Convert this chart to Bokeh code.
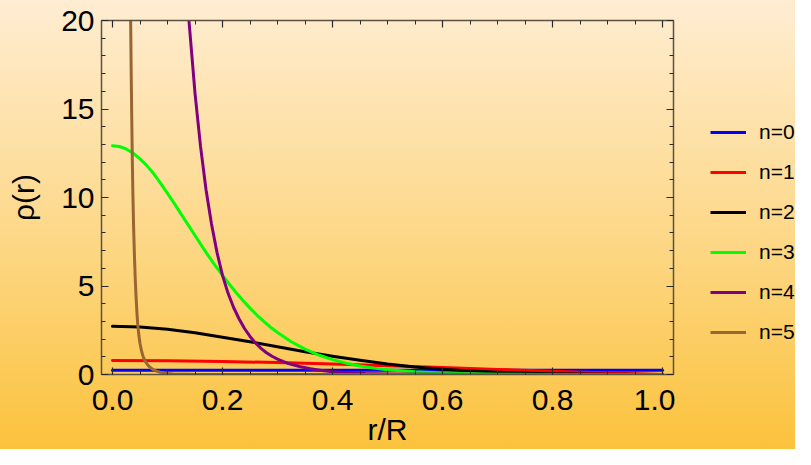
from bokeh.plotting import figure
from bokeh.layouts import row
from bokeh.models import (Range1d, LinearAxis, SingleIntervalTicker, PrintfTickFormatter,
                          CustomJSTickFormatter, Legend, LegendItem)
from bokeh.embed import file_html
from bokeh.resources import INLINE

# ---- data (r/R, rho(r)) ----
r_n0 = [0.0, 0.25, 0.5, 0.75, 1.0]
rho_n0 = [0.239, 0.239, 0.239, 0.239, 0.239]

r_n1 = [0.0, 0.1, 0.2, 0.3, 0.4, 0.5, 0.6, 0.7, 0.8, 0.9, 1.0]
rho_n1 = [0.785, 0.772, 0.734, 0.674, 0.594, 0.50, 0.396, 0.289, 0.184, 0.086, 0.0]

r_n2 = [0.0, 0.05, 0.1, 0.15, 0.2, 0.25, 0.3, 0.35, 0.4, 0.45, 0.5, 0.55, 0.6, 0.65,
        0.7, 0.75, 0.8, 0.9, 1.0]
rho_n2 = [2.72, 2.69, 2.56, 2.36, 2.11, 1.85, 1.57, 1.29, 1.03, 0.80, 0.59, 0.43, 0.30,
          0.20, 0.13, 0.07, 0.04, 0.01, 0.0]

r_n3 = [0.0, 0.0125, 0.025, 0.0375, 0.05, 0.0625, 0.075, 0.0875, 0.1, 0.1125, 0.125,
        0.1375, 0.15, 0.1625, 0.175, 0.1875, 0.2, 0.2125, 0.225, 0.2375, 0.25, 0.2625,
        0.275, 0.2875, 0.3, 0.325, 0.35, 0.375, 0.4, 0.425, 0.45, 0.475, 0.5, 0.55, 0.6,
        0.65, 0.7, 0.8, 0.9, 1.0]
rho_n3 = [12.93, 12.88, 12.74, 12.5, 12.18, 11.8, 11.34, 10.8, 10.23, 9.65, 9.05,
          8.45, 7.85, 7.25, 6.67, 6.12, 5.6, 5.1, 4.62, 4.17, 3.75, 3.36,
          3.0, 2.67, 2.37, 1.85, 1.43, 1.1, 0.84, 0.64, 0.48, 0.36, 0.27, 0.15, 0.08,
          0.04, 0.02, 0.004, 0.0, 0.0]

r_n4 = [0.0, 0.05, 0.1, 0.12, 0.13, 0.139, 0.15, 0.16, 0.17, 0.18, 0.19, 0.2, 0.21, 0.22,
        0.23, 0.24, 0.25, 0.26, 0.27, 0.28, 0.29, 0.3, 0.31, 0.32, 0.34, 0.36, 0.38, 0.4,
        0.43, 0.46, 0.5, 0.6, 0.7, 0.8, 1.0]
rho_n4 = [148.6, 120.0, 45.0, 30.0, 24.5, 20.0, 15.9, 12.9, 10.45, 8.5, 6.9, 5.6, 4.6, 3.8,
          3.15, 2.6, 2.15, 1.78, 1.48, 1.23, 1.03, 0.87, 0.74, 0.62, 0.45, 0.32, 0.23, 0.16,
          0.1, 0.06, 0.035, 0.01, 0.003, 0.0, 0.0]

r_n5 = [0.0, 0.02, 0.025, 0.028, 0.03, 0.0315, 0.033, 0.034, 0.035, 0.036, 0.037, 0.0385,
        0.04, 0.0415, 0.043, 0.0445, 0.046, 0.048, 0.05, 0.053, 0.056, 0.06, 0.065, 0.07,
        0.075, 0.08, 0.087, 0.095, 0.1, 0.11, 0.12, 0.135, 0.15, 0.2, 0.3, 1.0]
rho_n5 = [400.0, 80.0, 45.0, 34.0, 28.0, 24.0, 20.0, 17.0, 14.5, 12.2, 10.3, 8.2,
          6.6, 5.3, 4.3, 3.45, 2.8, 2.2, 1.75, 1.3, 0.98, 0.72, 0.5, 0.36,
          0.26, 0.19, 0.13, 0.08, 0.06, 0.035, 0.02, 0.01, 0.005, 0.001, 0.0, 0.0]

labels = ["n=0", "n=1", "n=2", "n=3", "n=4", "n=5"]
colors = ["#0000FF", "#FF0000", "#000000", "#00FF00", "#800080", "#996633"]
series = [(r_n0, rho_n0), (r_n1, rho_n1), (r_n2, rho_n2),
          (r_n3, rho_n3), (r_n4, rho_n4), (r_n5, rho_n5)]

x_ticks_interval = 0.2
y_ticks_interval = 5

FONT = "Liberation Sans"

# ---------------- main plot ----------------
p = figure(width=675, height=449, output_backend="svg", toolbar_location=None,
           x_range=Range1d(-0.02, 1.02), y_range=Range1d(0, 20),
           x_axis_type=None, y_axis_type=None)
p.min_border_left = 101
p.min_border_right = 2
p.min_border_top = 20
p.min_border_bottom = 75
p.background_fill_color = None
p.border_fill_color = None
p.outline_line_color = None
p.xgrid.visible = False
p.ygrid.visible = False

AXIS_COLOR = "#5c5240"


def style_axis(ax, labels_visible, standoff):
    ax.axis_line_color = AXIS_COLOR
    ax.axis_line_width = 1.5
    ax.major_tick_in = 7
    ax.major_tick_out = 0
    ax.minor_tick_in = 4
    ax.minor_tick_out = 0
    ax.major_tick_line_color = "#2a2a2a"
    ax.minor_tick_line_color = "#2a2a2a"
    ax.major_tick_line_width = 1.2
    ax.minor_tick_line_width = 1.0
    if labels_visible:
        ax.major_label_text_font = FONT
        ax.major_label_text_font_size = "30px"
        ax.major_label_text_color = "#000000"
        ax.major_label_standoff = standoff
    else:
        ax.formatter = CustomJSTickFormatter(code="return ''")
        ax.major_label_text_font_size = "2px"
        ax.major_label_standoff = 0


xb = LinearAxis(ticker=SingleIntervalTicker(interval=x_ticks_interval, num_minor_ticks=4),
                formatter=PrintfTickFormatter(format="%.1f"))
style_axis(xb, True, 15)
xb.axis_label = "r/R"
xb.axis_label_text_font = FONT
xb.axis_label_text_font_size = "30px"
xb.axis_label_text_font_style = "normal"
xb.axis_label_text_color = "#000000"
xb.axis_label_standoff = 0
p.add_layout(xb, "below")

xt = LinearAxis(ticker=SingleIntervalTicker(interval=x_ticks_interval, num_minor_ticks=4))
style_axis(xt, False, 0)
p.add_layout(xt, "above")

yl = LinearAxis(ticker=SingleIntervalTicker(interval=y_ticks_interval, num_minor_ticks=5))
style_axis(yl, True, 7)
yl.axis_label = "ρ(r)"
yl.axis_label_text_font = FONT
yl.axis_label_text_font_size = "30px"
yl.axis_label_text_font_style = "normal"
yl.axis_label_text_color = "#000000"
yl.axis_label_standoff = 18
p.add_layout(yl, "left")

yr = LinearAxis(ticker=SingleIntervalTicker(interval=y_ticks_interval, num_minor_ticks=5))
style_axis(yr, False, 0)
p.add_layout(yr, "right")

for (xs, ys), c in zip(series, colors):
    p.line(xs, ys, line_color=c, line_width=3, line_join="round", line_cap="round")

# ---------------- legend panel (same series, kept out of its view) ----------------
q = figure(width=120, height=449, output_backend="svg", toolbar_location=None,
           x_range=Range1d(5, 6), y_range=Range1d(5, 6),
           x_axis_type=None, y_axis_type=None, min_border=0)
q.background_fill_color = None
q.border_fill_color = None
q.outline_line_color = None
q.xgrid.visible = False
q.ygrid.visible = False

items = []
for (xs, ys), c, lab in zip(series, colors, labels):
    rr = q.line(xs, ys, line_color=c, line_width=3)
    items.append(LegendItem(label=lab, renderers=[rr]))

legend = Legend(items=items, location=(35, 30), orientation="vertical",
                border_line_color=None, background_fill_alpha=0, padding=0, margin=0,
                spacing=16, glyph_height=20, glyph_width=36, label_height=20,
                label_standoff=13, label_text_font=FONT, label_text_font_size="21px",
                label_text_color="#000000")
q.add_layout(legend, "center")

layout = row(p, q, spacing=0)
layout.styles = {"background": "linear-gradient(to bottom, #FFEDD2 0%, #FDD98C 50%, #FBC23C 100%)"}

open("out.html", "w").write(file_html(layout, INLINE))
